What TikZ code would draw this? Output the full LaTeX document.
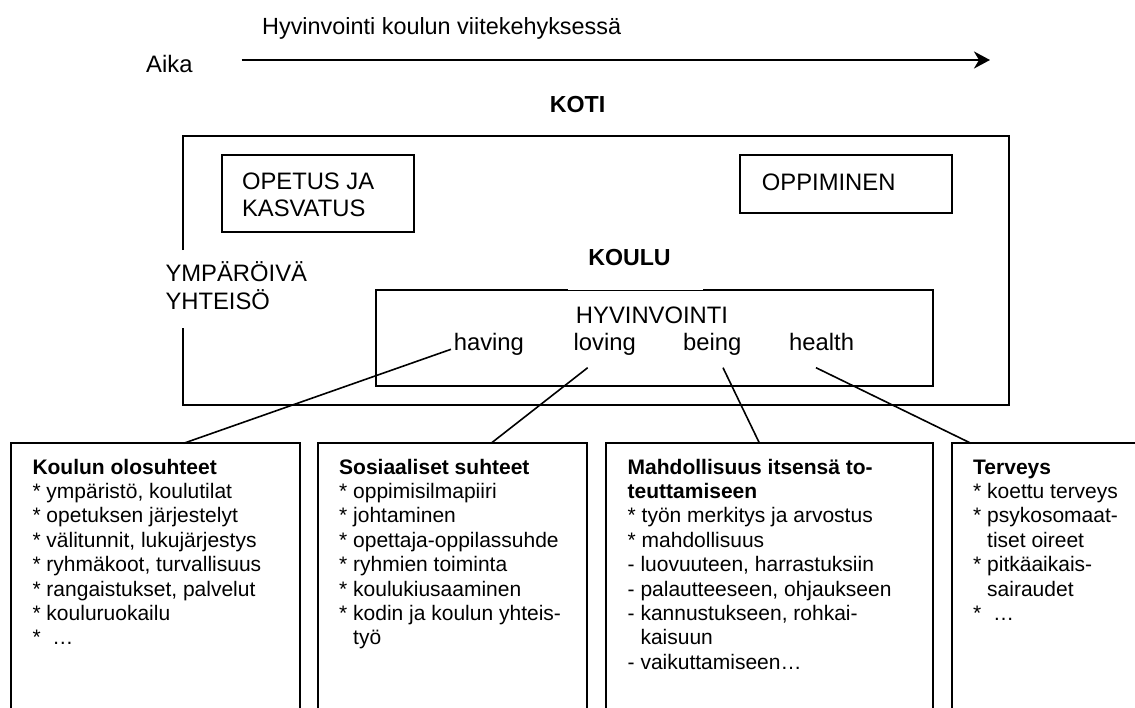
\documentclass[tikz,border=0pt]{standalone}
\usepackage{fontspec}
\setmainfont{Liberation Sans}
\usetikzlibrary{arrows.meta}
\tikzset{
  lbl/.style={inner sep=0pt, font=\fontsize{23.8pt}{26.7pt}\selectfont},
  blbl/.style={inner sep=0pt, font=\bfseries\fontsize{23.2pt}{26.7pt}\selectfont},
  boxtext/.style={inner sep=0pt, anchor=base west, font=\fontsize{21pt}{24.4pt}\selectfont},
  frame/.style={line width=2pt, line join=miter},
  conn/.style={line width=1.6pt},
  timearrow/.style={line width=2.6pt, -{Stealth[length=16pt,width=17pt,inset=5pt]}},
}
\newcommand{\bulletstar}{{*}}
\begin{document}
\begin{tikzpicture}[x=1pt,y=-1pt]
\useasboundingbox (0,0) rectangle (1135,707);
\clip (0,0) rectangle (1135,707);

% title and time arrow
\node[lbl, anchor=base west, font=\fontsize{23.4pt}{26pt}\selectfont] (title) at (262,34) {Hyvinvointi koulun viitekehyksessä};
\node[lbl, anchor=base west] (aika) at (146,72.3) {Aika};
\coordinate (arrS) at (241.7,60);
\coordinate (arrE) at (990,60);
\draw[timearrow] (arrS) -- (arrE);

% KOTI
\node[blbl, anchor=base] (koti) at (577.5,112) {KOTI};

% outer frame (school) with gap for YMPÄRÖIVÄ YHTEISÖ
\draw[frame] (183.3,250) -- (183.3,136) -- (1009,136) -- (1009,405) -- (183.3,405) -- (183.3,328.3);
\node[lbl, anchor=base west] (ymp) at (165.3,281.7)
  {\begin{tabular}[t]{@{}l@{}}YMPÄRÖIVÄ\\YHTEISÖ\end{tabular}};

% OPETUS JA KASVATUS
\draw[frame] (221.7,155.3) rectangle (414.3,231.7);
\node[lbl, anchor=base west] (opetus) at (241.8,189.3)
  {\begin{tabular}[t]{@{}l@{}}OPETUS JA\\KASVATUS\end{tabular}};

% OPPIMINEN
\draw[frame] (740,155.3) rectangle (952,213);
\node[lbl, anchor=base west] (oppiminen) at (761.7,190) {OPPIMINEN};

% HYVINVOINTI box
\draw[frame] (376,290) rectangle (933,386);
\fill[white] (567.7,235) rectangle (703.3,290);
\node[blbl, anchor=base] (koulu) at (629.5,265) {KOULU};
\node[lbl, anchor=base] (hyv) at (652,323) {HYVINVOINTI};
\node[lbl, anchor=base west] (having) at (453.6,350) {having};
\node[lbl, anchor=base west] (loving) at (573.5,350) {loving};
\node[lbl, anchor=base west] (being) at (683,350) {being};
\node[lbl, anchor=base west] (health) at (789,350) {health};

% bottom boxes
\draw[frame] (11,720) -- (11,443.3) -- (299.7,443.3) -- (299.7,720);
\draw[frame] (318,720) -- (318,443.3) -- (586.8,443.3) -- (586.8,720);
\draw[frame] (606,720) -- (606,443.3) -- (933,443.3) -- (933,720);
\draw[frame] (952,720) -- (952,443.3) -- (1150,443.3);

\node[boxtext] (t1) at (32.3,474) {\begin{tabular}[t]{@{}l@{}}
\textbf{Koulun olosuhteet}\\
\bulletstar{} ympäristö, koulutilat\\
\bulletstar{} opetuksen järjestelyt\\
\bulletstar{} välitunnit, lukujärjestys\\
\bulletstar{} ryhmäkoot, turvallisuus\\
\bulletstar{} rangaistukset, palvelut\\
\bulletstar{} kouluruokailu\\
\bulletstar{} \ …\end{tabular}};

\node[boxtext] (t2) at (339,474) {\begin{tabular}[t]{@{}l@{}}
\textbf{Sosiaaliset suhteet}\\
\bulletstar{} oppimisilmapiiri\\
\bulletstar{} johtaminen\\
\bulletstar{} opettaja-oppilassuhde\\
\bulletstar{} ryhmien toiminta\\
\bulletstar{} koulukiusaaminen\\
\bulletstar{} kodin ja koulun yhteis-\\
\hphantom{\bulletstar{} }työ\end{tabular}};

\node[boxtext] (t3) at (627.5,474) {\begin{tabular}[t]{@{}l@{}}
\textbf{Mahdollisuus itsensä to-}\\
\textbf{teuttamiseen}\\
\bulletstar{} työn merkitys ja arvostus\\
\bulletstar{} mahdollisuus\\
{-} luovuuteen, harrastuksiin\\
{-} palautteeseen, ohjaukseen\\
{-} kannustukseen, rohkai-\\
\hphantom{- }kaisuun\\
{-} vaikuttamiseen…\end{tabular}};

\node[boxtext] (t4) at (973,474) {\begin{tabular}[t]{@{}l@{}}
\textbf{Terveys}\\
\bulletstar{} koettu terveys\\
\bulletstar{} psykosomaat-\\
\hphantom{\bulletstar{} }tiset oireet\\
\bulletstar{} pitkäaikais-\\
\hphantom{\bulletstar{} }sairaudet\\
\bulletstar{} \ …\end{tabular}};

% connectors
\coordinate (cHa) at (451,349.3);
\coordinate (cHb) at (183.6,443.3);
\coordinate (cLa) at (587.7,367.7);
\coordinate (cLb) at (491,443.3);
\coordinate (cBa) at (723,367.7);
\coordinate (cBb) at (759.5,443.3);
\coordinate (cEa) at (816,367.7);
\coordinate (cEb) at (971,443.3);
\draw[conn] (cHa) -- (cHb);
\draw[conn] (cLa) -- (cLb);
\draw[conn] (cBa) -- (cBb);
\draw[conn] (cEa) -- (cEb);
\end{tikzpicture}
\end{document}
